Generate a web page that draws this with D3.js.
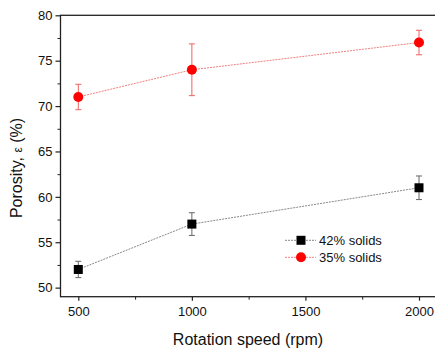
<!DOCTYPE html>
<html>
<head>
<meta charset="utf-8">
<script src="https://cdn.jsdelivr.net/npm/d3@7"></script>
<style>
  body { margin: 0; background: #fff; }
  svg { display: block; font-family: "Liberation Sans", Arial, sans-serif; }
</style>
</head>
<body>
<div id="chart"></div>
<script>
// data
const speeds = [500, 1000, 2000];
const solids42 = [52, 57, 61];
const solids42Err = [0.9, 1.25, 1.3];
const solids35 = [71, 74, 77];
const solids35Err = [1.4, 2.85, 1.35];
const xTicks = [500, 1000, 1500, 2000];
const yTicks = [50, 55, 60, 65, 70, 75, 80];

const width = 435, height = 350;

const svg = d3.select('#chart')
  .append('svg')
  .attr('width', width)
  .attr('height', height);

const x = d3.scaleLinear().domain([500, 2000]).range([78.3, 419]);
const y = d3.scaleLinear().domain([49, 80]).range([296.7, 15.3]);

const frameL = 60.5, frameR = 440, frameT = 15.3, frameB = 296.7;

// frame
svg.append('rect')
  .attr('x', frameL).attr('y', frameT)
  .attr('width', frameR - frameL).attr('height', frameB - frameT)
  .attr('fill', 'none').attr('stroke', '#222').attr('stroke-width', 1.3);

// x axis
const xAxis = svg.append('g')
  .attr('transform', 'translate(0,' + frameB + ')')
  .call(d3.axisBottom(x).tickValues(xTicks).tickFormat(d3.format('d')).tickSize(4).tickPadding(6).tickSizeOuter(0));
xAxis.select('.domain').remove();
xAxis.selectAll('text').attr('font-size', 13).attr('fill', '#111');
xAxis.selectAll('line').attr('stroke', '#222').attr('stroke-width', 1.2);
svg.append('g')
  .attr('transform', 'translate(0,' + frameB + ')')
  .call(d3.axisBottom(x).tickValues([750, 1250, 1750]).tickFormat('').tickSize(3).tickSizeOuter(0))
  .call(g => g.select('.domain').remove())
  .selectAll('line').attr('stroke', '#222');

// y axis
const yAxis = svg.append('g')
  .attr('transform', 'translate(' + frameL + ',0)')
  .call(d3.axisLeft(y).tickValues(yTicks).tickSize(5).tickPadding(3).tickSizeOuter(0));
yAxis.select('.domain').remove();
yAxis.selectAll('text').attr('font-size', 13).attr('fill', '#111');
yAxis.selectAll('line').attr('stroke', '#222').attr('stroke-width', 1.2);
svg.append('g')
  .attr('transform', 'translate(' + frameL + ',0)')
  .call(d3.axisLeft(y).tickValues([52.5, 57.5, 62.5, 67.5, 72.5, 77.5]).tickFormat('').tickSize(3).tickSizeOuter(0))
  .call(g => g.select('.domain').remove())
  .selectAll('line').attr('stroke', '#222');

// axis titles
svg.append('text')
  .attr('x', 248).attr('y', 345)
  .attr('text-anchor', 'middle')
  .attr('font-size', 16).attr('fill', '#111')
  .text('Rotation speed (rpm)');

const yTitle = svg.append('text')
  .attr('transform', 'translate(22,168) rotate(-90)')
  .attr('text-anchor', 'middle')
  .attr('font-size', 16).attr('fill', '#111');
yTitle.append('tspan').text('Porosity, ');
yTitle.append('tspan').attr('font-size', 12).text('ε');
yTitle.append('tspan').text(' (%)');

const series = [
  {name: '42% solids', values: solids42, err: solids42Err, line: '#888', errColor: '#666', fill: '#000', shape: 'square'},
  {name: '35% solids', values: solids35, err: solids35Err, line: '#f08080', errColor: '#f06060', fill: '#ff0000', shape: 'circle'}
];

const line = d3.line().x(d => x(d[0])).y(d => y(d[1]));

series.forEach(s => {
  const pts = speeds.map((v, i) => [v, s.values[i], s.err[i]]);

  svg.append('path')
    .datum(pts)
    .attr('d', line)
    .attr('fill', 'none')
    .attr('stroke', s.line)
    .attr('stroke-width', 1)
    .attr('stroke-dasharray', '2,1');

  const eb = svg.append('g').selectAll('g').data(pts).enter().append('g')
    .attr('stroke', s.errColor).attr('stroke-width', 1);
  eb.append('line')
    .attr('x1', d => x(d[0])).attr('x2', d => x(d[0]))
    .attr('y1', d => y(d[1] + d[2])).attr('y2', d => y(d[1] - d[2]));
  eb.append('line')
    .attr('x1', d => x(d[0]) - 3).attr('x2', d => x(d[0]) + 3)
    .attr('y1', d => y(d[1] + d[2])).attr('y2', d => y(d[1] + d[2]));
  eb.append('line')
    .attr('x1', d => x(d[0]) - 3).attr('x2', d => x(d[0]) + 3)
    .attr('y1', d => y(d[1] - d[2])).attr('y2', d => y(d[1] - d[2]));

  if (s.shape === 'square') {
    svg.append('g').selectAll('rect').data(pts).enter().append('rect')
      .attr('x', d => x(d[0]) - 4.5).attr('y', d => y(d[1]) - 4.5)
      .attr('width', 9).attr('height', 9)
      .attr('fill', s.fill);
  } else {
    svg.append('g').selectAll('circle').data(pts).enter().append('circle')
      .attr('cx', d => x(d[0])).attr('cy', d => y(d[1]))
      .attr('r', 5)
      .attr('fill', s.fill);
  }
});

// legend
const legend = svg.append('g');
series.forEach((s, i) => {
  const ly = 240.3 + i * 17;
  legend.append('line')
    .attr('x1', 285).attr('x2', 316).attr('y1', ly).attr('y2', ly)
    .attr('stroke', s.line).attr('stroke-width', 1).attr('stroke-dasharray', '2,1');
  if (s.shape === 'square') {
    legend.append('rect').attr('x', 296.5).attr('y', ly - 4.5).attr('width', 9).attr('height', 9).attr('fill', s.fill);
  } else {
    legend.append('circle').attr('cx', 301).attr('cy', ly).attr('r', 5).attr('fill', s.fill);
  }
  legend.append('text')
    .attr('x', 319).attr('y', ly + 4.5)
    .attr('font-size', 13).attr('fill', '#111')
    .text(s.name);
});
</script>
</body>
</html>
